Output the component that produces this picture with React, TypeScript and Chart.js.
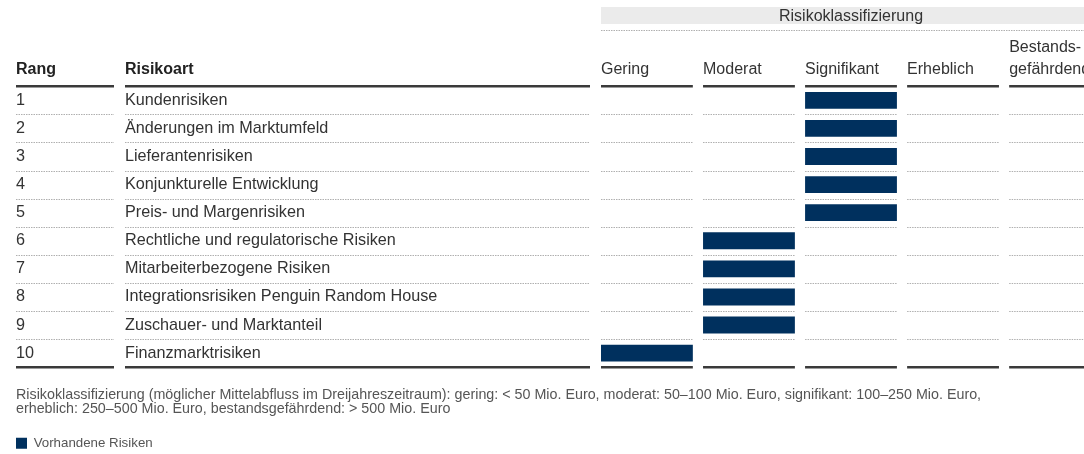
import React, { useEffect, useRef } from 'react';
import { Chart, registerables } from 'chart.js';

Chart.register(...registerables);

// ---------- data ----------
const ranks = ['1', '2', '3', '4', '5', '6', '7', '8', '9', '10'];
const riskTypes = [
  'Kundenrisiken',
  'Änderungen im Marktumfeld',
  'Lieferantenrisiken',
  'Konjunkturelle Entwicklung',
  'Preis- und Margenrisiken',
  'Rechtliche und regulatorische Risiken',
  'Mitarbeiterbezogene Risiken',
  'Integrationsrisiken Penguin Random House',
  'Zuschauer- und Marktanteil',
  'Finanzmarktrisiken',
];
const classLabels: string[][] = [
  ['Gering'],
  ['Moderat'],
  ['Signifikant'],
  ['Erheblich'],
  ['Bestands-', 'gefährdend'],
];
// index into classLabels for each risk
const riskClassIndex = [2, 2, 2, 2, 2, 1, 1, 1, 1, 0];
const classHeader = 'Risikoklassifizierung';
const leftHeaders = ['Rang', 'Risikoart'];
const footnoteLines = [
  'Risikoklassifizierung (möglicher Mittelabfluss im Dreijahreszeitraum): gering: < 50 Mio. Euro, moderat: 50–100 Mio. Euro, signifikant: 100–250 Mio. Euro,',
  'erheblich: 250–500 Mio. Euro, bestandsgefährdend: > 500 Mio. Euro',
];
const legendLabel = 'Vorhandene Risiken';

// ---------- style ----------
const FONT = "'Liberation Sans', Arial, Helvetica, sans-serif";
const COL_SPAN = 0.9; // share of a class column that is filled (rest is gap)
const COL_GAP = 11;
const NAVY = '#00305e';
const TEXT = '#333333';
const TICK_PAD = 6;
const TICK_FONT_SIZE = 16;
const TICK_LH = 1.375;
const ROW_FONT_SIZE = 16.2;

const tablePlugin = {
  id: 'tableDecor',
  beforeDraw(chart: any) {
    const { ctx, chartArea } = chart;
    const x = chart.scales.x;
    const y = chart.scales.y;
    const yr = chart.scales.yRank;
    const segs: [number, number][] = [
      [yr.left, yr.right - COL_GAP],
      [y.left, y.right - COL_GAP],
      ...classLabels.map((_, i) => [x.getPixelForValue(i), x.getPixelForValue(i + COL_SPAN)] as [number, number]),
    ];
    const x0 = x.getPixelForValue(0);
    const x1 = x.getPixelForValue(x.max);
    ctx.save();
    // grey header band
    ctx.fillStyle = '#ebebeb';
    ctx.fillRect(x0, 7, x1 - x0, 17);
    // dotted line under band
    ctx.setLineDash([1.5, 1]);
    ctx.strokeStyle = '#b0b0b0';
    ctx.lineWidth = 1;
    ctx.beginPath();
    ctx.moveTo(x0, 30.5);
    ctx.lineTo(x1, 30.5);
    ctx.stroke();
    // row separators
    const rowH = chartArea.height / ranks.length;
    for (let i = 1; i < ranks.length; i++) {
      const yy = Math.round(chartArea.top + i * rowH) + 0.5;
      ctx.beginPath();
      segs.forEach(([a, b]) => {
        ctx.moveTo(a, yy);
        ctx.lineTo(b, yy);
      });
      ctx.stroke();
    }
    // thick header / footer rules
    ctx.setLineDash([]);
    ctx.strokeStyle = '#3a3a3a';
    ctx.lineWidth = 2.5;
    [chartArea.top, chartArea.bottom].forEach((yy: number) => {
      ctx.beginPath();
      segs.forEach(([a, b]) => {
        ctx.moveTo(a, yy);
        ctx.lineTo(b, yy);
      });
      ctx.stroke();
    });
    // left column headers
    const lh = TICK_FONT_SIZE * TICK_LH;
    const hy = x.bottom - TICK_PAD - lh / 2;
    ctx.font = `bold ${TICK_FONT_SIZE}px ${FONT}`;
    ctx.fillStyle = '#222222';
    ctx.textBaseline = 'middle';
    ctx.textAlign = 'left';
    ctx.fillText(leftHeaders[0], yr.left, hy);
    ctx.fillText(leftHeaders[1], y.left, hy);
    ctx.restore();
  },
};

export default function App() {
  const ref = useRef<HTMLCanvasElement>(null);
  useEffect(() => {
    const chart = new Chart(ref.current as HTMLCanvasElement, {
      type: 'bar',
      data: {
        labels: riskTypes,
        datasets: [
          {
            label: legendLabel,
            data: riskClassIndex.map((c) => [c, c + COL_SPAN]) as any,
            backgroundColor: NAVY,
            borderWidth: 0,
            barPercentage: 0.6,
            categoryPercentage: 1,
          },
        ],
      },
      options: {
        indexAxis: 'y',
        responsive: false,
        animation: false,
        events: [],
        layout: { padding: { left: 16, right: 11, top: 0, bottom: 0 } },
        scales: {
          x: {
            type: 'linear',
            position: 'top',
            min: 0,
            max: classLabels.length - 1 + COL_SPAN,
            grid: { display: false, drawTicks: false },
            border: { display: false },
            afterBuildTicks: (s: any) => {
              s.ticks = classLabels.map((_, i) => ({ value: i }));
            },
            afterFit: (s: any) => {
              s.height = 86.3;
            },
            ticks: {
              autoSkip: false,
              maxRotation: 0,
              align: 'start',
              padding: TICK_PAD,
              color: TEXT,
              font: { family: FONT, size: TICK_FONT_SIZE, lineHeight: TICK_LH },
              callback: (_v: any, i: number) => classLabels[i],
            },
            title: {
              display: true,
              text: classHeader,
              color: TEXT,
              font: { family: FONT, size: 16, lineHeight: 1.2 },
              padding: { top: 6.5, bottom: 0 },
            },
          },
          y: {
            type: 'category',
            position: 'left',
            weight: 0,
            offset: true,
            grid: { display: false, drawTicks: false },
            border: { display: false },
            afterFit: (s: any) => {
              s.width = 476;
            },
            ticks: {
              crossAlign: 'far',
              autoSkip: false,
              color: TEXT,
              font: { family: FONT, size: ROW_FONT_SIZE },
            },
          },
          yRank: {
            type: 'category',
            position: 'left',
            weight: 1,
            labels: ranks,
            offset: true,
            grid: { display: false, drawTicks: false },
            border: { display: false },
            afterFit: (s: any) => {
              s.width = 109;
            },
            ticks: {
              crossAlign: 'far',
              autoSkip: false,
              color: TEXT,
              font: { family: FONT, size: ROW_FONT_SIZE },
            },
          },
        } as any,
        plugins: {
          tooltip: { enabled: false },
          title: {
            display: true,
            position: 'bottom',
            align: 'start',
            text: footnoteLines,
            color: '#555555',
            font: { family: FONT, size: 14.3, weight: 'normal', lineHeight: 0.98 },
            padding: { top: 20.5, bottom: 21 },
            weight: 500,
          } as any,
          legend: {
            display: true,
            position: 'bottom',
            align: 'start',
            weight: 1000,
            labels: {
              boxWidth: 11,
              boxHeight: 11,
              padding: 0,
              color: '#555555',
              font: { family: FONT, size: 13.3 },
            },
          } as any,
        },
      },
      plugins: [tablePlugin],
    });
    return () => chart.destroy();
  }, []);
  return (
    <div
      style={{
        position: 'fixed',
        left: 0,
        top: 0,
        width: 1084,
        height: 454,
        overflow: 'hidden',
        background: '#ffffff',
      }}
    >
      <canvas ref={ref} width={1112} height={460} style={{ display: 'block', width: 1112, height: 460 }} />
    </div>
  );
}
